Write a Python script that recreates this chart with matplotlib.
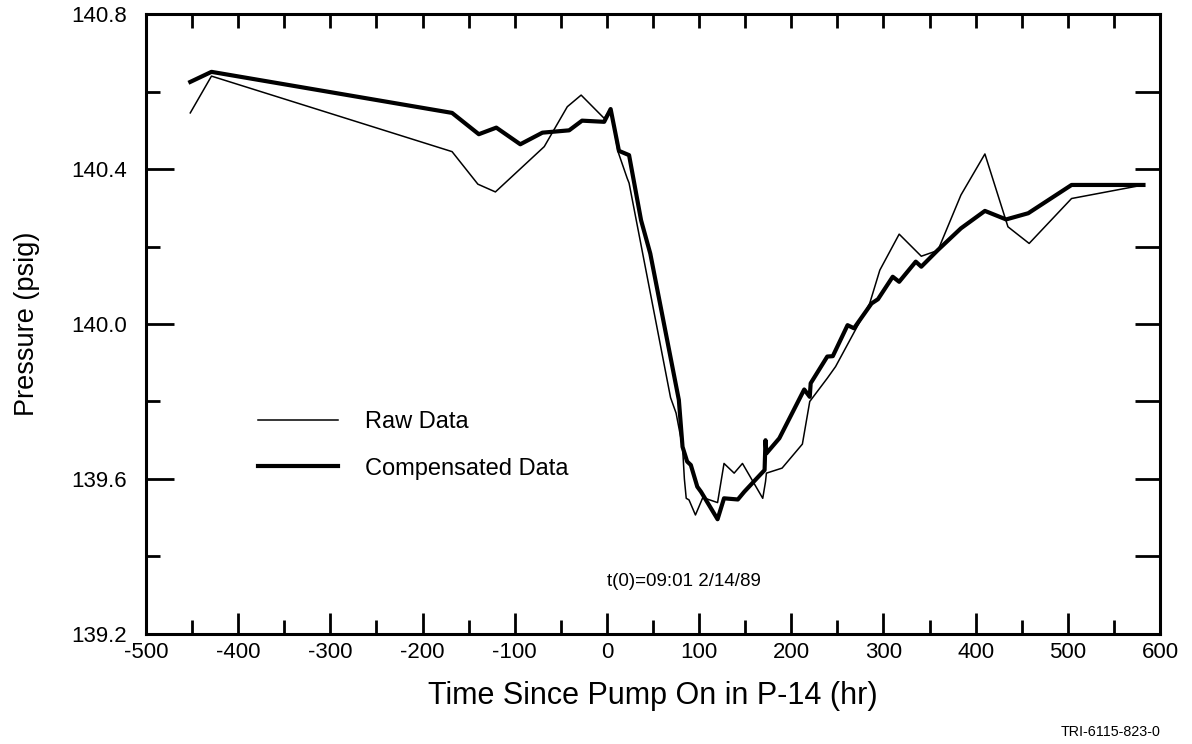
import matplotlib
matplotlib.use("Agg")
import matplotlib.pyplot as plt
from matplotlib.ticker import MultipleLocator, FormatStrFormatter

plt.rcParams['font.family'] = ['Liberation Sans', 'DejaVu Sans']
plt.rcParams['axes.unicode_minus'] = False

# ---- data ----
raw_t = [-452, -429, -168, -140, -121, -68, -43, -28, -3, 4, 12, 22, 24, 69, 75,
         82, 84, 86, 89, 96, 104, 120, 127, 138, 147, 169, 172, 173, 190, 212,
         220, 239, 248, 285, 296, 317, 341, 359, 384, 410, 435, 458, 504, 582]
raw_p = [140.545, 140.64, 140.445, 140.361, 140.341, 140.458, 140.561, 140.591, 140.531,
         140.556, 140.445, 140.376, 140.364, 139.81, 139.77, 139.683, 139.60, 139.55,
         139.546, 139.507, 139.552, 139.539, 139.64, 139.615, 139.64, 139.55, 139.593,
         139.615, 139.628, 139.69, 139.80, 139.86, 139.89, 140.053, 140.139, 140.232,
         140.175, 140.19, 140.333, 140.439, 140.251, 140.208, 140.324, 140.359]

comp_t = [-452, -429, -168, -139, -120, -94, -70, -41, -27, -3, 4, 13, 24, 37, 47,
          78, 82, 87, 91, 98, 102, 120, 127, 142, 149, 171, 172, 173, 187, 214,
          220, 221, 239, 245, 261, 268, 287, 294, 310, 317, 335, 341, 359, 384,
          410, 433, 457, 504, 582]
comp_p = [140.625, 140.651, 140.545, 140.49, 140.507, 140.464, 140.494, 140.50, 140.525,
          140.522, 140.555, 140.447, 140.436, 140.268, 140.182, 139.804, 139.683, 139.645,
          139.636, 139.58, 139.567, 139.496, 139.55, 139.547, 139.567, 139.623, 139.70,
          139.666, 139.705, 139.831, 139.812, 139.847, 139.916, 139.917, 139.997, 139.989,
          140.053, 140.064, 140.122, 140.109, 140.161, 140.148, 140.191, 140.247, 140.292,
          140.27, 140.286, 140.359, 140.359]

series_labels = ["Raw Data", "Compensated Data"]
x_label = "Time Since Pump On in P-14 (hr)"
y_label = "Pressure (psig)"
note = "t(0)=09:01 2/14/89"
figure_id = "TRI-6115-823-0"

# ---- figure ----
fig = plt.figure(figsize=(11.92, 7.44), dpi=100)
ax = fig.add_axes([0.1225, 0.148, 0.8507, 0.833])

ax.plot(raw_t, raw_p, color='black', lw=1.1, label=series_labels[0])
ax.plot(comp_t, comp_p, color='black', lw=3.0, label=series_labels[1])

ax.set_xlim(-500, 600)
ax.set_ylim(139.2, 140.8)

ax.xaxis.set_major_locator(MultipleLocator(100))
ax.xaxis.set_minor_locator(MultipleLocator(50))
ax.yaxis.set_major_locator(MultipleLocator(0.4))
ax.yaxis.set_minor_locator(MultipleLocator(0.2))
ax.yaxis.set_major_formatter(FormatStrFormatter('%.1f'))

ax.tick_params(axis='x', which='major', direction='in', length=15, width=2.0,
               labelsize=16, pad=6, top=False)
ax.tick_params(axis='x', which='minor', direction='in', length=10, width=2.0, top=False)
ax.tick_params(axis='y', which='major', direction='in', length=20, width=2.0,
               labelsize=16, pad=14, right=False)
ax.tick_params(axis='y', which='minor', direction='in', length=10, width=2.0, right=False)

# top ticks every 50, right ticks every 0.2
secx = ax.secondary_xaxis('top')
secx.xaxis.set_major_locator(MultipleLocator(50))
secx.tick_params(direction='in', length=10, width=2.0, labeltop=False)
secx.spines['top'].set_visible(False)
secy = ax.secondary_yaxis('right')
secy.yaxis.set_major_locator(MultipleLocator(0.2))
secy.tick_params(direction='in', length=18, width=2.0, labelright=False)
secy.spines['right'].set_visible(False)

for s in ax.spines.values():
    s.set_linewidth(2.2)

ax.set_xlabel(x_label, fontsize=22, labelpad=13)
ax.set_ylabel(y_label, fontsize=19.5, labelpad=22)

leg = ax.legend(loc='upper left', bbox_to_anchor=(0.110, 0.360), frameon=False,
                fontsize=17, handlelength=3.4, handletextpad=1.15, labelspacing=1.05,
                borderpad=0, borderaxespad=0)

ax.text(0.0, 139.335, note, ha='left', va='center', fontsize=13.5)
fig.text(0.932, 0.0155, figure_id, ha='center', va='center', fontsize=10.3)

fig.savefig("out.png", dpi=100)
